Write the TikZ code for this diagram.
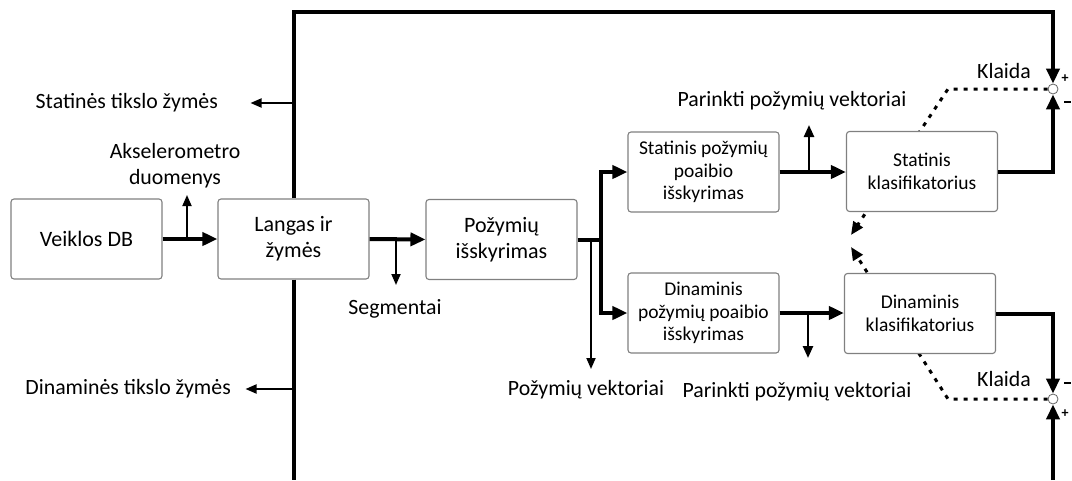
\documentclass[tikz,border=0pt]{standalone}
\usepackage{fontspec}
\setmainfont{Carlito}
\usetikzlibrary{arrows.meta,backgrounds}

\begin{document}
\begin{tikzpicture}[x=1pt,y=-1pt,
  blk/.style={draw=black!50, line width=1.1pt, rounded corners=3pt, fill=white,
    minimum width=151pt, minimum height=80pt, inner sep=2pt, align=center,
    font=\fontsize{22}{26}\selectfont},
  sblk/.style={blk, font=\fontsize{19.5}{22.5}\selectfont},
  lbl/.style={inner sep=0pt, align=center, font=\fontsize{21.8}{26}\selectfont},
  sgn/.style={inner sep=0pt, font=\fontsize{14}{14}\selectfont\bfseries},
  sumpt/.style={circle, draw=black!60, line width=0.8pt, fill=white,
    minimum size=10pt, inner sep=0pt},
  busline/.style={line width=4pt},
  bus/.style={busline, -{Triangle[length=15pt,width=13pt]}},
  tharr/.style={line width=1.8pt, -{Triangle[length=11pt,width=9pt]}},
  medarr/.style={line width=2.4pt, -{Triangle[length=12pt,width=10pt]}},
  errln/.style={line width=3pt, dash pattern=on 4pt off 6pt,
    -{Triangle[length=13pt,width=11pt]}}
]
\useasboundingbox (0,0) rectangle (1072,480);

% processing blocks
\node[blk] (veiklos) at (86.5,239) {Veiklos DB};
\node[blk] (langas) at (293.5,239) {Langas ir\\žymės};
\node[blk] (pozym) at (501.5,239.5) {Požymių\\išskyrimas};
\node[sblk] (statsel) at (703.5,172) {Statinis požymių\\poaibio\\išskyrimas};
\node[sblk] (dynsel) at (703.5,313) {Dinaminis\\požymių poaibio\\išskyrimas};
\node[sblk] (statcls) at (922,171.5) {Statinis\\klasifikatorius};
\node[sblk] (dyncls) at (920,313.5) {Dinaminis\\klasifikatorius};

% summing points
\node[sumpt] (sumtop) at (1053,89) {};
\node[sumpt] (sumbot) at (1053,399) {};
\node[sgn] (ptop) at (1065,79) {+};
\node[sgn] (mtop) at (1067.5,102) {\rule{7pt}{1.4pt}};
\node[sgn] (mbot) at (1067.5,383) {\rule{7pt}{1.4pt}};
\node[sgn] (pbot) at (1065,414) {+};

% signal labels
\node[lbl] (acclbl) at (175,166) {Akselerometro\\duomenys};
\node[lbl] (seglbl) at (395,309) {Segmentai};
\node[lbl] (pvlbl) at (586,390) {Požymių vektoriai};
\node[lbl] (ppv1) at (792,101) {Parinkti požymių vektoriai};
\node[lbl] (ppv2) at (797,392) {Parinkti požymių vektoriai};
\node[lbl, anchor=east] (stlbl) at (218,103) {Statinės tikslo žymės};
\node[lbl, anchor=east] (dnlbl) at (231,389) {Dinaminės tikslo žymės};
\node[lbl] (kl1) at (1004,71) {Klaida};
\node[lbl] (kl2) at (1004,379) {Klaida};

% helper points
\coordinate (accB) at (187,239);
\coordinate (segB) at (396,239);
\coordinate (split) at (601,239.5);
\coordinate (pvB) at (591,239.5);
\coordinate (ppvB1) at (809,172);
\coordinate (ppvB2) at (808,313);
\coordinate (fbTL) at (293.5,12);
\coordinate (fbTR) at (1053,12);
\coordinate (fbBL) at (293.5,480);
\coordinate (fbBR) at (1053,480);
\coordinate (stB) at (293.5,103);
\coordinate (dnB) at (293.5,389);
\coordinate (kTurn1) at (948,89);
\coordinate (kTip1) at (851,235);
\coordinate (kTurn2) at (948,399);
\coordinate (kTip2) at (851,247);

% error signals, passing behind the classifiers
\begin{scope}[on background layer]
  \draw[errln] (sumtop.west) -- (kTurn1) -- (kTip1);
  \draw[errln] (sumbot.west) -- (kTurn2) -- (kTip2);
\end{scope}

% main data flow
\draw[bus] (veiklos.east) -- (langas.west);
\draw[tharr] (accB) -- ++(0,-44);
\draw[bus] (langas.east) -- (pozym.west);
\draw[tharr] (segB) -- ++(0,46);
\draw[bus] (pozym.east) -- (split) |- (statsel.west);
\draw[bus] (split) |- (dynsel.west);
\draw[tharr] (pvB) -- ++(0,129.5);
\draw[bus] (statsel.east) -- (statsel.east -| statcls.west);
\draw[medarr] (ppvB1) -- ++(0,-47);
\draw[bus] (dynsel.east) -- (dynsel.east -| dyncls.west);
\draw[medarr] (ppvB2) -- ++(0,45);
\draw[bus] (statcls.east) -| (sumtop.south);
\draw[bus] (dyncls.east) -| (sumbot.north);

% target labels fed to the summing points
\draw[bus] (langas.north) -- (fbTL) -- (fbTR) -- (sumtop.north);
\draw[busline] (langas.south) -- (fbBL);
\draw[bus] (fbBR) -- (sumbot.south);
\draw[tharr] (stB) -- ++(-43,0);
\draw[tharr] (dnB) -- ++(-48,0);
\end{tikzpicture}
\end{document}
